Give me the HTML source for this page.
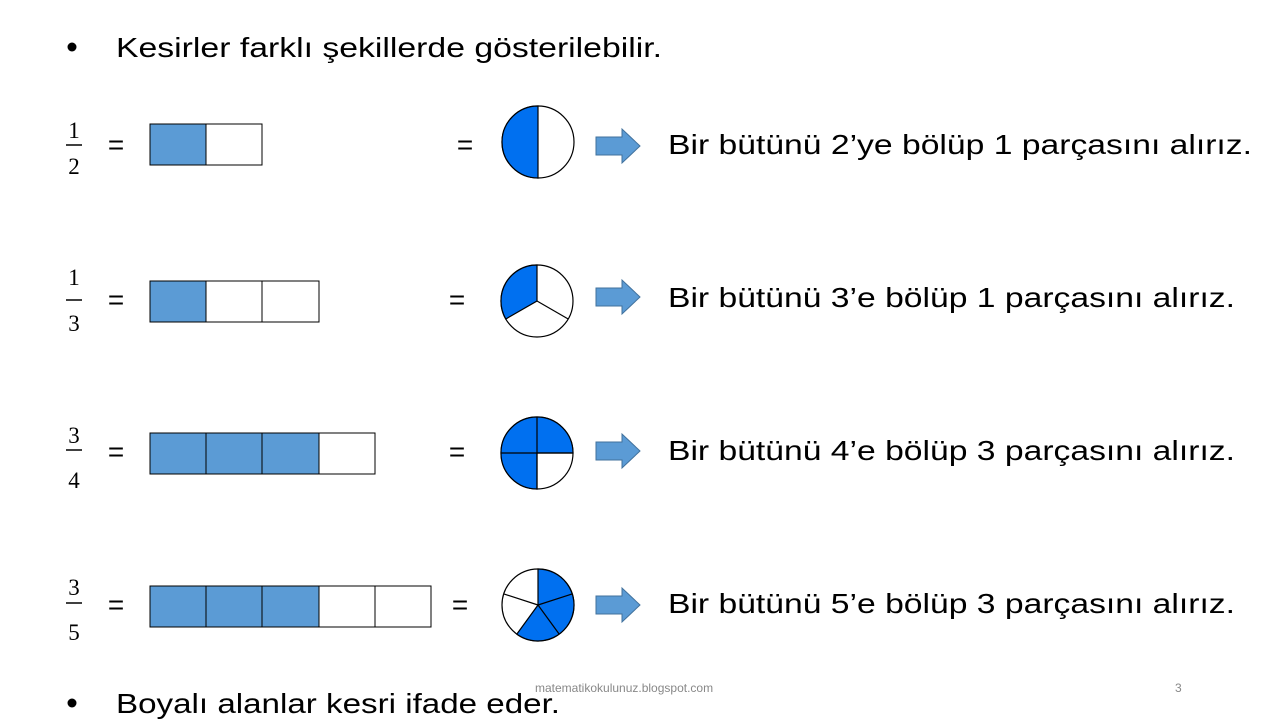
<!DOCTYPE html>
<html><head><meta charset="utf-8"><style>
html,body{margin:0;padding:0;background:#fff;}
svg{display:block;}
.t{font-family:"Liberation Sans",sans-serif;font-size:28px;fill:#000;}
.f{font-family:"Liberation Serif",serif;font-size:23px;fill:#000;}
</style></head><body>
<svg width="1280" height="720" viewBox="0 0 1280 720" xmlns="http://www.w3.org/2000/svg">
<circle cx="72" cy="47" r="4.5" fill="#000"/>
<text class="t" x="116" y="57" textLength="546" lengthAdjust="spacingAndGlyphs">Kesirler farklı şekillerde gösterilebilir.</text>
<circle cx="72" cy="703" r="4.5" fill="#000"/>
<text class="t" x="116" y="713" textLength="444" lengthAdjust="spacingAndGlyphs">Boyalı alanlar kesri ifade eder.</text>
<text x="535" y="692" font-family="Liberation Sans,sans-serif" font-size="12" fill="#888">matematikokulunuz.blogspot.com</text>
<text x="1175" y="692" font-family="Liberation Sans,sans-serif" font-size="12" fill="#888">3</text>

<g stroke="#000" stroke-width="1">
<rect x="150" y="124" width="56" height="41" fill="#5B9BD5"/>
<rect x="206" y="124" width="56" height="41" fill="#fff"/>
<rect x="150" y="281" width="56" height="41" fill="#5B9BD5"/>
<rect x="206" y="281" width="56" height="41" fill="#fff"/>
<rect x="262" y="281" width="57" height="41" fill="#fff"/>
<rect x="150" y="433" width="56" height="41" fill="#5B9BD5"/>
<rect x="206" y="433" width="56" height="41" fill="#5B9BD5"/>
<rect x="262" y="433" width="57" height="41" fill="#5B9BD5"/>
<rect x="319" y="433" width="56" height="41" fill="#fff"/>
<rect x="150" y="586" width="56" height="41" fill="#5B9BD5"/>
<rect x="206" y="586" width="56" height="41" fill="#5B9BD5"/>
<rect x="262" y="586" width="57" height="41" fill="#5B9BD5"/>
<rect x="319" y="586" width="56" height="41" fill="#fff"/>
<rect x="375" y="586" width="56" height="41" fill="#fff"/>
</g>

<g stroke="#000" stroke-width="1.2">
<circle cx="538" cy="142" r="36" fill="#fff"/>
<path d="M538 142 L538 106 A36 36 0 0 0 538 178 Z" fill="#0070F0"/>

<circle cx="537" cy="301" r="36" fill="#fff"/>
<path d="M537 301 L537 265 A36 36 0 0 0 505.8 319 Z" fill="#0070F0"/>
<line x1="537" y1="301" x2="568.2" y2="319"/>

<circle cx="537" cy="453" r="36" fill="#fff"/>
<path d="M537 453 L573 453 A36 36 0 1 0 537 489 Z" fill="#0070F0"/>
<line x1="537" y1="417" x2="537" y2="489"/>
<line x1="501" y1="453" x2="573" y2="453"/>

<circle cx="538" cy="605" r="36" fill="#fff"/>
<path d="M538 605 L538 569 A36 36 0 1 1 516.8 634.1 Z" fill="#0070F0"/>
<line x1="538" y1="605" x2="572.2" y2="593.9"/>
<line x1="538" y1="605" x2="559.2" y2="634.1"/>
<line x1="538" y1="605" x2="503.8" y2="593.9"/>
</g>

<g fill="#5B9BD5" stroke="#41719C" stroke-width="1">
<path d="M596 137 H622 V129 L640 146 L622 163 V155 H596 Z"/>
<path d="M596 288 H622 V280 L640 297 L622 314 V306 H596 Z"/>
<path d="M596 442 H622 V434 L640 451 L622 468 V460 H596 Z"/>
<path d="M596 596 H622 V588 L640 605 L622 622 V614 H596 Z"/>
</g>

<g class="f" text-anchor="middle">
<text x="74" y="138">1</text><text x="74" y="174">2</text>
<text x="74" y="285">1</text><text x="74" y="331">3</text>
<text x="74" y="443">3</text><text x="74" y="488">4</text>
<text x="74" y="595">3</text><text x="74" y="640">5</text>
</g>
<g stroke="#000" stroke-width="1.5">
<line x1="66" y1="145" x2="82" y2="145"/>
<line x1="66" y1="300" x2="82" y2="300"/>
<line x1="66" y1="450" x2="82" y2="450"/>
<line x1="66" y1="603" x2="82" y2="603"/>
</g>

<g class="t" text-anchor="middle">
<text x="116" y="154">=</text><text x="465" y="154">=</text>
<text x="116" y="309">=</text><text x="457" y="309">=</text>
<text x="116" y="461">=</text><text x="457" y="461">=</text>
<text x="116" y="614">=</text><text x="460" y="614">=</text>
</g>

<text class="t" x="668" y="154" textLength="584" lengthAdjust="spacingAndGlyphs">Bir bütünü 2’ye bölüp 1 parçasını alırız.</text>
<text class="t" x="668" y="307" textLength="567" lengthAdjust="spacingAndGlyphs">Bir bütünü 3’e bölüp 1 parçasını alırız.</text>
<text class="t" x="668" y="460" textLength="567" lengthAdjust="spacingAndGlyphs">Bir bütünü 4’e bölüp 3 parçasını alırız.</text>
<text class="t" x="668" y="613" textLength="567" lengthAdjust="spacingAndGlyphs">Bir bütünü 5’e bölüp 3 parçasını alırız.</text>
</svg>
</body></html>
